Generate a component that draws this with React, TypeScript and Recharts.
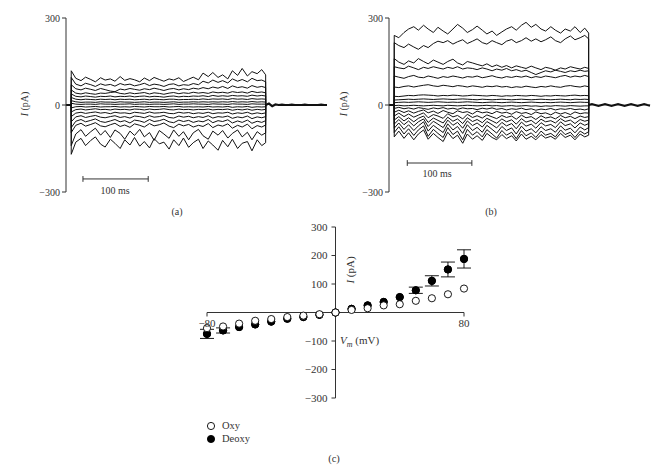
import React from 'react';
import { LineChart, Line, XAxis, YAxis, ReferenceLine, ScatterChart, Scatter, ErrorBar } from 'recharts';

// sample times (ms) of the current traces during the voltage step
const TIME = [8, 15, 23, 30, 38, 45, 53, 60, 68, 75, 83, 90, 98, 105, 113, 120, 128, 135, 143, 150, 158, 165, 173, 180, 188, 195, 203, 210, 218, 225, 233, 240, 248, 255, 263, 270, 278, 285, 293, 300, 306];
// after the step, back to the holding potential
const TAIL_T = [306, 311, 316, 321, 326, 331, 336, 341, 346, 351, 356, 361, 366, 371, 376, 381, 386, 391, 396, 400];
const TAIL_A = [0, 5, -4, 2, 0, 1, 0, 0, 1, 0, 0, 0, 1, 0, 0, 0, 0, 1, 0, 0];
const TAIL_B = [0, 3, 0, -3, 0, 3, 0, -3, 0, 3, 0, -3, 0, 3, 0, -3, 0, 3, 0, -2];

// panel (a) traces, pA
const TRACES_A: number[][] = [
  [118, 92, 84, 96, 88, 80, 94, 86, 90, 82, 98, 85, 91, 87, 80, 93, 84, 95, 88, 82, 90, 86, 94, 81, 89, 96, 87, 110, 98, 112, 95, 104, 90, 118, 102, 126, 100, 115, 108, 122, 104],
  [95, 72, 66, 75, 70, 64, 73, 68, 71, 65, 74, 69, 72, 66, 70, 75, 67, 72, 69, 64, 71, 73, 66, 70, 68, 74, 70, 82, 76, 86, 78, 84, 76, 90, 82, 88, 80, 92, 84, 86, 80],
  [70, 56, 52, 58, 54, 50, 57, 53, 48, 46, 55, 52, 57, 54, 51, 56, 53, 58, 54, 50, 55, 57, 52, 56, 53, 58, 55, 60, 56, 62, 58, 64, 57, 66, 60, 63, 58, 67, 61, 64, 60],
  [52, 41, 38, 42, 39, 37, 41, 40, 43, 45, 40, 38, 42, 39, 41, 43, 38, 42, 40, 37, 41, 43, 39, 42, 40, 44, 41, 43, 40, 45, 42, 44, 41, 46, 43, 45, 41, 47, 43, 45, 42],
  [38, 30, 28, 31, 29, 27, 30, 29, 31, 28, 30, 29, 31, 28, 30, 31, 28, 30, 29, 27, 30, 31, 28, 30, 29, 31, 30, 32, 29, 33, 30, 32, 30, 33, 31, 32, 30, 34, 31, 33, 31],
  [26, 20, 18, 20, 19, 18, 20, 19, 20, 18, 20, 19, 20, 18, 19, 20, 18, 20, 19, 18, 20, 20, 18, 19, 19, 20, 19, 21, 19, 21, 20, 21, 19, 22, 20, 21, 19, 22, 20, 21, 20],
  [15, 11, 9, 10, 10, 9, 11, 10, 10, 9, 11, 10, 10, 9, 10, 11, 9, 10, 10, 9, 10, 11, 9, 10, 10, 11, 10, 11, 10, 11, 10, 11, 10, 12, 10, 11, 10, 12, 10, 11, 10],
  [6, 3, 2, 3, 3, 2, 4, 3, 3, 2, 3, 3, 4, 2, 3, 3, 2, 3, 3, 2, 3, 4, 2, 3, 3, 4, 3, 3, 2, 4, 3, 3, 2, 4, 3, 3, 2, 4, 3, 3, 3],
  [-10, -6, -5, -7, -6, -5, -7, -6, -6, -5, -7, -6, -7, -5, -6, -7, -5, -6, -6, -5, -7, -6, -5, -7, -6, -7, -6, -7, -5, -7, -6, -7, -5, -8, -6, -7, -5, -8, -6, -7, -6],
  [-24, -16, -14, -17, -15, -13, -16, -15, -17, -14, -16, -15, -17, -14, -15, -17, -14, -16, -15, -13, -16, -17, -14, -16, -15, -17, -15, -16, -14, -17, -15, -16, -14, -18, -15, -17, -14, -18, -15, -17, -15],
  [-40, -28, -25, -29, -26, -24, -28, -26, -30, -25, -28, -27, -30, -25, -27, -29, -24, -28, -27, -25, -29, -30, -25, -28, -26, -30, -27, -29, -25, -30, -27, -28, -25, -31, -27, -29, -25, -31, -27, -30, -27],
  [-58, -41, -37, -43, -39, -36, -42, -44, -40, -37, -43, -40, -45, -38, -40, -44, -37, -42, -40, -36, -43, -45, -38, -42, -39, -44, -40, -43, -37, -45, -40, -42, -38, -46, -41, -44, -38, -47, -41, -44, -40],
  [-78, -56, -50, -58, -53, -48, -57, -60, -55, -50, -58, -54, -62, -52, -55, -60, -50, -57, -54, -49, -58, -61, -52, -57, -53, -60, -55, -58, -50, -61, -54, -57, -51, -62, -55, -60, -52, -63, -56, -60, -54],
  [-95, -70, -63, -73, -67, -61, -72, -75, -68, -63, -74, -69, -77, -65, -70, -76, -64, -72, -68, -62, -73, -78, -66, -72, -67, -76, -70, -74, -64, -78, -69, -73, -65, -80, -70, -76, -66, -82, -71, -76, -69],
  [-140, -100, -85, -108, -92, -80, -104, -88, -112, -86, -98, -118, -90, -105, -84, -110, -95, -122, -88, -100, -115, -86, -108, -92, -120, -96, -84, -106, -118, -90, -104, -88, -114, -98, -86, -110, -94, -120, -92, -104, -96],
  [-170, -128, -115, -140, -122, -110, -135, -145, -118, -132, -150, -120, -138, -112, -142, -126, -148, -116, -134, -128, -152, -120, -140, -114, -146, -130, -118, -150, -124, -138, -156, -122, -144, -118, -150, -132, -126, -158, -120, -140, -130],
];

// panel (b) traces, pA
const TRACES_B: number[][] = [
  [240, 232, 250, 262, 270, 258, 275, 262, 250, 268, 255, 245, 262, 278, 265, 250, 260, 272, 258, 245, 255, 240, 252, 262, 270, 258, 275, 285, 268, 278, 262, 255, 270, 258, 248, 262, 255, 270, 250, 265, 248],
  [215, 205, 198, 210, 200, 192, 205, 198, 212, 220, 215, 222, 210, 218, 225, 212, 220, 228, 215, 210, 222, 215, 208, 220, 226, 215, 222, 232, 220, 228, 218, 225, 235, 222, 215, 228, 238, 225, 232, 240, 228],
  [160, 148, 140, 152, 145, 160, 150, 142, 155, 148, 140, 150, 158, 145, 138, 150, 145, 140, 135, 142, 132, 138, 130, 136, 128, 135, 130, 126, 134, 128, 122, 130, 126, 120, 128, 124, 132, 128, 124, 130, 126],
  [132, 128, 125, 134, 128, 122, 130, 126, 132, 128, 124, 130, 126, 132, 124, 128, 126, 122, 128, 124, 118, 124, 120, 126, 118, 122, 116, 120, 112, 105, 112, 118, 114, 120, 116, 112, 118, 115, 120, 116, 118],
  [100, 96, 92, 98, 102, 96, 94, 100, 96, 92, 98, 95, 100, 97, 93, 98, 96, 100, 94, 97, 101, 96, 93, 98, 95, 99, 96, 100, 94, 98, 95, 100, 97, 94, 99, 102, 96, 100, 97, 102, 98],
  [62, 60, 64, 66, 62, 65, 68, 70, 66, 64, 68, 66, 63, 67, 65, 62, 66, 64, 61, 65, 63, 66, 62, 64, 60, 63, 61, 65, 62, 60, 64, 62, 66, 63, 61, 65, 67, 64, 62, 66, 63],
  [30, 29, 31, 33, 32, 34, 35, 34, 33, 31, 33, 32, 34, 33, 31, 32, 34, 33, 32, 31, 33, 32, 30, 32, 31, 33, 32, 31, 33, 32, 30, 32, 31, 33, 32, 31, 33, 34, 32, 33, 32],
  [17, 18, 19, 20, 19, 20, 21, 20, 19, 20, 21, 20, 19, 20, 21, 20, 19, 18, 20, 19, 18, 19, 20, 19, 18, 19, 20, 19, 18, 19, 20, 19, 18, 19, 20, 19, 18, 20, 19, 20, 19],
  [8, 9, 10, 9, 10, 11, 10, 9, 10, 11, 10, 9, 10, 9, 10, 11, 10, 9, 8, 9, 10, 9, 8, 9, 10, 9, 8, 9, 10, 9, 8, 9, 8, 9, 10, 9, 8, 9, 10, 9, 9],
  [-2, -1, -3, -2, -1, -2, -3, -2, -1, -2, -3, -1, -2, -3, -2, -1, -2, -3, -2, -1, -3, -2, -4, -3, -2, -4, -3, -2, -4, -3, -5, -3, -4, -2, -3, -4, -2, -3, -4, -3, -3],
  [-12, -8, -13, -10, -14, -9, -12, -15, -10, -13, -9, -14, -11, -15, -10, -13, -12, -16, -11, -14, -10, -15, -12, -17, -13, -15, -11, -16, -13, -18, -14, -16, -12, -17, -13, -15, -12, -16, -14, -17, -13],
  [-25, -18, -26, -20, -28, -22, -17, -27, -21, -29, -19, -25, -30, -20, -26, -23, -31, -21, -27, -24, -30, -22, -28, -25, -32, -23, -29, -26, -33, -24, -30, -27, -34, -25, -31, -26, -33, -24, -30, -27, -28],
  [-38, -28, -40, -31, -42, -35, -27, -44, -33, -38, -46, -30, -41, -36, -48, -32, -43, -37, -45, -34, -41, -47, -36, -43, -38, -49, -35, -44, -40, -50, -37, -45, -41, -48, -36, -44, -39, -47, -38, -43, -40],
  [-52, -40, -55, -44, -58, -46, -38, -60, -45, -53, -62, -42, -56, -48, -64, -44, -57, -50, -61, -46, -55, -63, -48, -58, -51, -66, -47, -59, -53, -65, -49, -58, -54, -62, -47, -57, -52, -64, -50, -56, -52],
  [-66, -50, -68, -55, -72, -58, -48, -74, -56, -66, -78, -52, -70, -60, -80, -55, -71, -62, -76, -57, -68, -79, -60, -72, -64, -82, -59, -73, -66, -80, -61, -72, -67, -78, -58, -71, -65, -79, -62, -70, -64],
  [-80, -62, -84, -68, -88, -72, -58, -90, -70, -82, -95, -65, -86, -74, -98, -68, -88, -77, -94, -70, -84, -97, -74, -88, -79, -100, -73, -90, -82, -96, -75, -88, -82, -94, -72, -87, -80, -96, -76, -86, -78],
  [-95, -75, -100, -82, -105, -86, -72, -108, -84, -98, -112, -78, -102, -90, -120, -84, -104, -92, -110, -85, -100, -114, -88, -104, -94, -116, -88, -106, -96, -112, -90, -104, -98, -110, -86, -102, -94, -112, -90, -100, -92],
  [-110, -90, -115, -96, -120, -100, -86, -118, -98, -112, -126, -94, -116, -104, -132, -100, -118, -106, -122, -98, -112, -120, -102, -116, -106, -124, -100, -118, -108, -120, -102, -114, -108, -118, -98, -112, -104, -120, -100, -110, -104],
];

// panel (c): I-V relation
const VOLTAGES = [-80, -70, -60, -50, -40, -30, -20, -10, 0, 10, 20, 30, 40, 50, 60, 70, 80];
const OXY = [-55, -49, -39, -29, -23, -16, -11, -6, 0, 9, 15, 25, 29, 41, 50, 64, 84];
const DEOXY = [-75, -63, -51, -42, -32, -22, -16, -8, 0, 13, 25, 37, 54, 78, 111, 151, 188];
// error bars that stay inside the marker are left at 0
const DEOXY_ERR = [16, 9, 0, 0, 0, 0, 0, 0, 0, 0, 0, 0, 0, 11, 18, 26, 32];
const I_TICKS = [300, 200, 100, -100, -200, -300];

const FONT = 'Liberation Serif, Times New Roman, serif';
const INK = '#333';

const fmt = (v: number) => (v < 0 ? '\u2212' + Math.abs(v) : String(v));

function buildRows(traces: number[][], tail: number[]) {
  const zero: Record<string, number> = {};
  traces.forEach((_, k) => (zero['s' + k] = 0));
  const rows: any[] = [{ t: 0, ...zero }, { t: TIME[0], ...zero }];
  TIME.forEach((t, i) => {
    const r: any = { t };
    traces.forEach((tr, k) => (r['s' + k] = tr[i]));
    rows.push(r);
  });
  rows.push({ t: TIME[TIME.length - 1], ...zero });
  TAIL_T.forEach((t, i) => rows.push({ t, tail: tail[i] }));
  return rows;
}

const rowsA = buildRows(TRACES_A, TAIL_A);
const rowsB = buildRows(TRACES_B, TAIL_B);

const ivOxy = VOLTAGES.map((v, i) => ({ v, i: OXY[i] }));
const ivDeoxy = VOLTAGES.map((v, i) => ({ v, i: DEOXY[i], err: DEOXY_ERR[i] }));

function Text({ x, y, children, size = 10, rotate = false, align = 'center' }: any) {
  const tx = align === 'center' ? '-50%' : '0';
  return (
    <div
      style={{
        position: 'absolute',
        left: x,
        top: y,
        transform: `translate(${tx}, -50%)${rotate ? ' rotate(-90deg)' : ''}`,
        fontFamily: FONT,
        fontSize: size,
        color: INK,
        whiteSpace: 'nowrap',
        lineHeight: 1,
      }}
    >
      {children}
    </div>
  );
}

function TracePanel({ rows, count, left, bar }: { rows: any[]; count: number; left: number; bar: [number, number, number] }) {
  const [x1, x2, y] = bar;
  return (
    <div style={{ position: 'absolute', left, top: 0 }}>
      <LineChart width={340} height={210} data={rows} margin={{ top: 18, right: 13, bottom: 18, left: 26 }}>
        <XAxis dataKey="t" type="number" domain={[0, 400]} hide />
        <YAxis
          type="number"
          domain={[-300, 300]}
          ticks={[-300, 0, 300]}
          width={40}
          tickSize={4}
          tickFormatter={fmt}
          stroke={INK}
          tick={{ fontSize: 10, fontFamily: FONT, fill: INK }}
        />
        {Array.from({ length: count }).map((_, k) => (
          <Line key={k} type="linear" dataKey={'s' + k} stroke="#111" strokeWidth={1} dot={false} isAnimationActive={false} />
        ))}
        <Line type="linear" dataKey="tail" stroke="#111" strokeWidth={2.2} dot={false} isAnimationActive={false} />
        {/* scale bar */}
        <ReferenceLine segment={[{ x: x1, y }, { x: x2, y }]} stroke={INK} />
        <ReferenceLine segment={[{ x: x1, y: y - 10 }, { x: x1, y: y + 10 }]} stroke={INK} />
        <ReferenceLine segment={[{ x: x2, y: y - 10 }, { x: x2, y: y + 10 }]} stroke={INK} />
      </LineChart>
    </div>
  );
}

const circleShape = (fill: string) => (props: any) => (
  <circle cx={props.cx} cy={props.cy} r={3.6} fill={fill} stroke="#000" strokeWidth={0.9} />
);

export default function App() {
  return (
    <div style={{ position: 'absolute', left: 0, top: 0, width: 666, height: 470, background: '#fff', overflow: 'hidden' }}>
      <TracePanel rows={rowsA} count={TRACES_A.length} left={0} bar={[26, 126, -255]} />
      <TracePanel rows={rowsB} count={TRACES_B.length} left={323} bar={[28, 127, -200]} />

      <Text x={25} y={104} rotate>
        <i>I</i> (pA)
      </Text>
      <Text x={344} y={104} rotate>
        <i>I</i> (pA)
      </Text>
      <Text x={115} y={191}>100 ms</Text>
      <Text x={437} y={174}>100 ms</Text>
      <Text x={177} y={212}>(a)</Text>
      <Text x={491} y={212}>(b)</Text>

      {/* I-V plot */}
      <div style={{ position: 'absolute', left: 150, top: 200 }}>
        <ScatterChart width={360} height={220} margin={{ top: 27, right: 46, bottom: 22, left: 57 }}>
          <XAxis dataKey="v" type="number" domain={[-80, 80]} hide />
          <YAxis dataKey="i" type="number" domain={[-300, 300]} hide />
          <ReferenceLine segment={[{ x: 0, y: -300 }, { x: 0, y: 300 }]} stroke={INK} />
          <ReferenceLine segment={[{ x: -80, y: 0 }, { x: 80, y: 0 }]} stroke={INK} />
          {I_TICKS.map((v) => (
            <ReferenceLine
              key={v}
              segment={[{ x: -2.5, y: v }, { x: 0, y: v }]}
              stroke={INK}
              label={{ value: fmt(v), position: 'left', offset: 4, fontSize: 11, fontFamily: FONT, fill: INK }}
            />
          ))}
          {[-80, 80].map((v) => (
            <ReferenceLine
              key={v}
              segment={[{ x: v, y: 0 }, { x: v, y: -14 }]}
              stroke={INK}
              label={{ value: fmt(v), position: 'bottom', offset: 3, fontSize: 11, fontFamily: FONT, fill: INK }}
            />
          ))}
          <Scatter name="Deoxy" data={ivDeoxy} shape={circleShape('#000')} isAnimationActive={false}>
            <ErrorBar dataKey="err" direction="y" width={7} stroke="#000" strokeWidth={0.9} />
          </Scatter>
          {/* markers again so the error bars sit underneath */}
          <Scatter name="Deoxy markers" data={ivDeoxy} shape={circleShape('#000')} isAnimationActive={false} legendType="none" />
          <Scatter name="Oxy" data={ivOxy} shape={circleShape('#fff')} isAnimationActive={false} />
        </ScatterChart>
      </div>

      <Text x={350} y={270} rotate size={11}>
        <i>I</i> (pA)
      </Text>
      <Text x={340} y={342} size={11} align="left">
        <i>V</i>
        <sub style={{ fontSize: 8 }}>
          <i>m</i>
        </sub>{' '}
        (mV)
      </Text>

      {/* legend */}
      <svg style={{ position: 'absolute', left: 205, top: 420 }} width={12} height={26}>
        <circle cx={6} cy={6} r={3.6} fill="#fff" stroke="#000" strokeWidth={0.9} />
        <circle cx={6} cy={19} r={3.6} fill="#000" stroke="#000" strokeWidth={0.9} />
      </svg>
      <Text x={222} y={426} size={10.5} align="left">Oxy</Text>
      <Text x={222} y={439} size={10.5} align="left">Deoxy</Text>
      <Text x={334} y={459} size={10.5}>(c)</Text>
    </div>
  );
}
